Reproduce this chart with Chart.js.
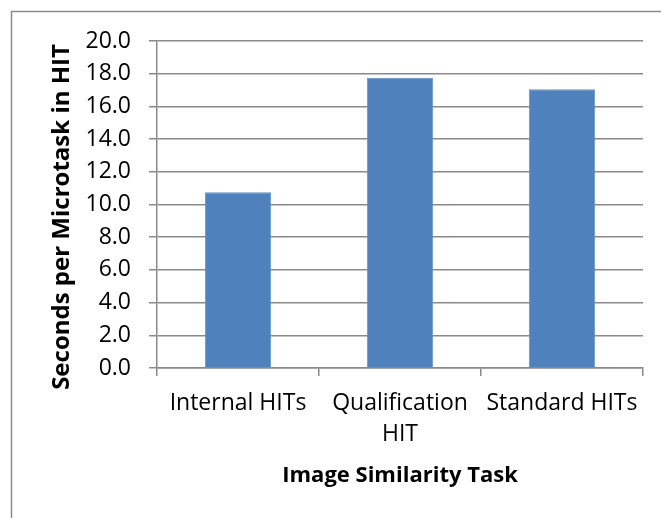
<!DOCTYPE html>
<html>
<head>
<meta charset="utf-8">
<script src="https://cdn.jsdelivr.net/npm/chart.js@4.4.0/dist/chart.umd.min.js"></script>
<style>
  html, body { margin: 0; padding: 0; background: #fff; overflow: hidden; }
  #wrap { width: 661px; height: 518px; }
</style>
</head>
<body>
<div id="wrap"><canvas id="simChart" width="661" height="518"></canvas></div>
<script>
const categories = ["Internal HITs", ["Qualification", "HIT"], "Standard HITs"];
const secondsPerTask = [10.75, 17.75, 17.05];
const yTicks = [0, 2, 4, 6, 8, 10, 12, 14, 16, 18, 20];

const gridColor = "#8a8a8a";
const fontFamily = "'Open Sans', 'Liberation Sans', sans-serif";

// outer frame, cut off at right and bottom like the source
const framePlugin = {
  id: "frame",
  beforeDraw(chart) {
    const ctx = chart.ctx;
    ctx.save();
    ctx.strokeStyle = "#8c8c8c";
    ctx.lineWidth = 1.5;
    ctx.strokeRect(11.5, 11.5, 800, 700);
    ctx.restore();
  },
};

const ctx = document.getElementById("simChart").getContext("2d");
new Chart(ctx, {
  type: "bar",
  data: {
    labels: categories,
    datasets: [
      {
        label: "Seconds per Microtask in HIT",
        data: secondsPerTask,
        backgroundColor: "#4F81BD",
        borderColor: "#6690c4",
        borderWidth: 1,
        barPercentage: 0.41,
        categoryPercentage: 1,
      },
    ],
  },
  options: {
    responsive: false,
    animation: false,
    layout: { padding: { left: 12, top: 41, right: 18, bottom: 0 } },
    plugins: { legend: { display: false }, tooltip: { enabled: false } },
    scales: {
      x: {
        offset: true,
        grid: {
          drawOnChartArea: false,
          drawTicks: true,
          tickLength: 8,
          color: gridColor,
          lineWidth: 1.5,
        },
        border: { color: gridColor, width: 1.5 },
        ticks: {
          autoSkip: false,
          maxRotation: 0,
          minRotation: 0,
          padding: 12,
          color: "#000",
          font: { family: fontFamily, size: 23, lineHeight: 1.35 },
        },
        title: {
          display: true,
          text: "Image Similarity Task",
          color: "#000",
          font: { family: fontFamily, size: 22, weight: "bold", lineHeight: 1.2 },
          padding: { top: 0, bottom: 29 },
        },
        afterFit(scale) {
          scale.height = 150;
        },
      },
      y: {
        min: 0,
        max: 20,
        afterBuildTicks(scale) {
          scale.ticks = yTicks.map((v) => ({ value: v }));
        },
        grid: {
          color: gridColor,
          lineWidth: 1.5,
          tickLength: 8,
        },
        border: { color: gridColor, width: 1.5 },
        ticks: {
          padding: 18,
          color: "#000",
          font: { family: fontFamily, size: 23 },
          callback: (v) => Number(v).toFixed(1),
        },
        title: {
          display: true,
          text: "Seconds per Microtask in HIT\u00a0\u00a0\u00a0\u00a0",
          color: "#000",
          font: { family: fontFamily, size: 24, weight: "bold", lineHeight: 1.2 },
          padding: { top: 36, bottom: 0 },
        },
        afterFit(scale) {
          scale.width = 145;
        },
      },
    },
  },
  plugins: [framePlugin],
});
</script>
</body>
</html>
